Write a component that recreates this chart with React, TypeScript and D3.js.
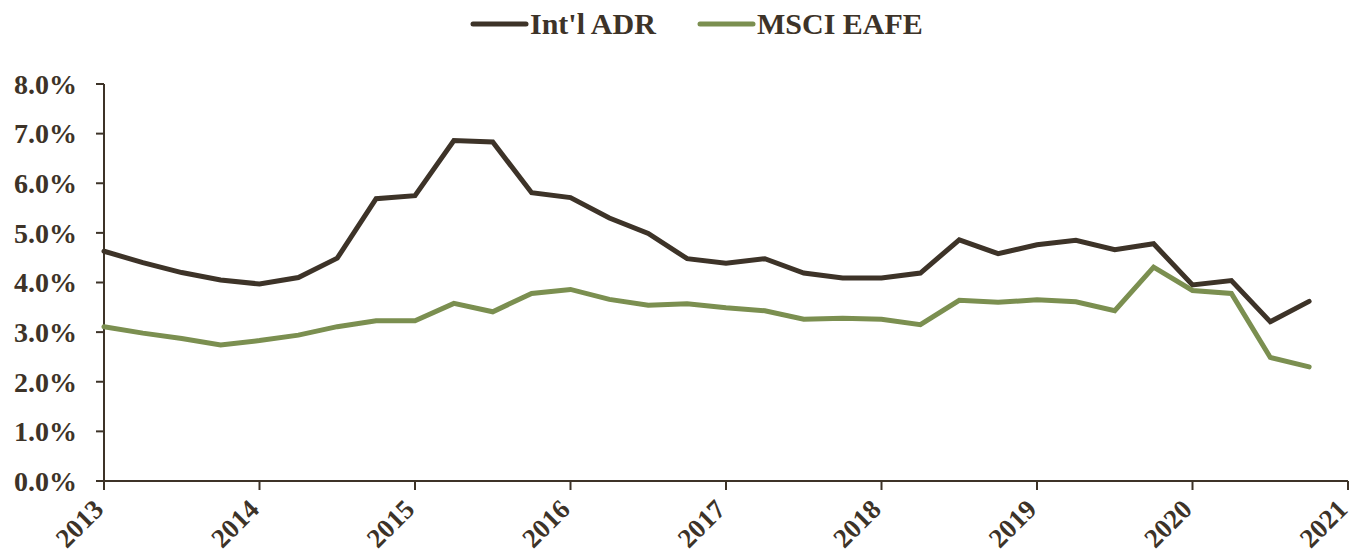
import React from 'react'
import * as d3 from 'd3'

// quarterly dividend yields, %
const quarters = [
  2013, 2013.25, 2013.5, 2013.75, 2014, 2014.25, 2014.5, 2014.75,
  2015, 2015.25, 2015.5, 2015.75, 2016, 2016.25, 2016.5, 2016.75,
  2017, 2017.25, 2017.5, 2017.75, 2018, 2018.25, 2018.5, 2018.75,
  2019, 2019.25, 2019.5, 2019.75, 2020, 2020.25, 2020.5, 2020.75,
]
const adr = [
  4.63, 4.4, 4.2, 4.05, 3.97, 4.1, 4.49, 5.69,
  5.75, 6.86, 6.83, 5.81, 5.71, 5.3, 4.99, 4.48,
  4.39, 4.48, 4.19, 4.09, 4.09, 4.19, 4.86, 4.58,
  4.76, 4.85, 4.66, 4.78, 3.95, 4.04, 3.21, 3.62,
]
const eafe = [
  3.11, 2.98, 2.87, 2.74, 2.83, 2.94, 3.11, 3.23,
  3.23, 3.58, 3.41, 3.78, 3.86, 3.66, 3.54, 3.57,
  3.49, 3.43, 3.26, 3.28, 3.26, 3.15, 3.64, 3.6,
  3.65, 3.61, 3.43, 4.31, 3.84, 3.78, 2.49, 2.3,
]
const yearTicks = [2013, 2014, 2015, 2016, 2017, 2018, 2019, 2020, 2021]
const pctTicks = [0, 1, 2, 3, 4, 5, 6, 7, 8]
const seriesNames = ["Int'l ADR", 'MSCI EAFE']

const W = 1355
const H = 559
const dark = '#3d3328'
const green = '#7b8f50'
const font = '"Liberation Serif", "Times New Roman", serif'

export default function App() {
  const x = d3.scaleLinear().domain([2013, 2021]).range([104, 1348])
  const y = d3.scaleLinear().domain([0, 8]).range([481, 84])

  const line = d3.line<number>()
    .x((d, i) => x(quarters[i]))
    .y(d => y(d))

  const series = [
    { name: seriesNames[0], values: adr, color: dark },
    { name: seriesNames[1], values: eafe, color: green },
  ]
  const legendX = [473, 700]

  return (
    <svg width={W} height={H} style={{ position: 'absolute', left: 0, top: 0 }}
      fontFamily={font} fontWeight="bold" fill={dark}>
      {/* legend */}
      {series.map((s, i) => (
        <g key={s.name} transform={`translate(${legendX[i]},24)`}>
          <line x1={0} x2={53} y1={0} y2={0} stroke={s.color} strokeWidth={5} strokeLinecap="round" />
          <text x={57} y={10} fontSize={30}>{s.name}</text>
        </g>
      ))}

      {/* y axis */}
      <line x1={x(2013)} x2={x(2013)} y1={y(8)} y2={y(0)} stroke={dark} strokeWidth={2} />
      {pctTicks.map(t => (
        <g key={t}>
          <line x1={x(2013) - 8} x2={x(2013)} y1={y(t)} y2={y(t)} stroke={dark} strokeWidth={2} />
          <text x={77} y={y(t)} dy="0.35em" textAnchor="end" fontSize={28}>{t.toFixed(1)}%</text>
        </g>
      ))}

      {/* x axis */}
      <line x1={x(2013)} x2={x(2021)} y1={y(0)} y2={y(0)} stroke={dark} strokeWidth={2} />
      {yearTicks.map(t => (
        <g key={t}>
          <line x1={x(t)} x2={x(t)} y1={y(0)} y2={y(0) + 9} stroke={dark} strokeWidth={2} />
          <text transform={`translate(${x(t) + 1},${y(0) + 30}) rotate(-45)`} textAnchor="end" fontSize={27}>{t}</text>
        </g>
      ))}

      {/* lines */}
      {series.map(s => (
        <path key={s.name} d={line(s.values) || ''} fill="none" stroke={s.color}
          strokeWidth={5} strokeLinejoin="miter" strokeLinecap="round" />
      ))}
    </svg>
  )
}
